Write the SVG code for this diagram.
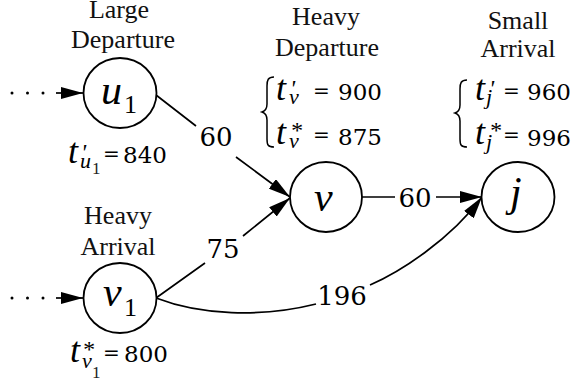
<svg xmlns="http://www.w3.org/2000/svg" width="576" height="385" viewBox="0 0 576 385">
<defs>
<marker id="ah" markerUnits="userSpaceOnUse" viewBox="0 0 22 12" refX="22" refY="6" markerWidth="22" markerHeight="12" orient="auto">
<path d="M0,0 L22,6 L0,12 Z" fill="#000"/>
</marker>
</defs>
<style>
.node{fill:#fff;stroke:#000;stroke-width:1.8}
.edge{fill:none;stroke:#000;stroke-width:1.7}
.hd{font-family:"Liberation Serif", serif;font-size:26px;text-anchor:middle;fill:#111}
.nl{font-family:"Liberation Serif", serif;font-style:italic;font-size:42px;fill:#000}
.ns{font-family:"Liberation Serif", serif;font-size:26px;fill:#000}
.t{font-family:"Liberation Serif", serif;font-style:italic;font-size:36px;fill:#000}
.sub{font-family:"Liberation Serif", serif;font-style:italic;font-size:22px;fill:#000}
.sup{font-family:"Liberation Serif", serif;font-style:italic;font-size:24px;fill:#000}
.ss{font-family:"Liberation Serif", serif;font-size:17px;fill:#222}
.num{font-family:"DejaVu Serif", serif;font-size:23px;fill:#000}
.eq{font-family:"DejaVu Serif", serif;font-size:20px;fill:#000}
.el{font-family:"DejaVu Serif", serif;font-size:26px;fill:#000;text-anchor:middle}
.br{fill:none;stroke:#000;stroke-width:1.5}
</style>
<g id="connectors">
<g fill="#000"><circle cx="12" cy="93" r="1.5"/><circle cx="27.5" cy="93" r="1.5"/><circle cx="43" cy="93" r="1.5"/>
<circle cx="12" cy="298" r="1.5"/><circle cx="27.5" cy="298" r="1.5"/><circle cx="43" cy="298" r="1.5"/></g>
<path class="edge" d="M56,93 L83,93" marker-end="url(#ah)"/>
<path class="edge" d="M56,298 L83,298" marker-end="url(#ah)"/>
<path class="edge" d="M156,95 L196,126 M236,157 L290,197" marker-end="url(#ah)"/>
<path class="edge" d="M156,298 L205,263 M243,236 L290,198" marker-end="url(#ah)"/>
<path class="edge" d="M362,197 L395,197 M436,197 L482,197" marker-end="url(#ah)"/>
<path class="edge" d="M156,298 C200,315 260,318 316,304 M370,285 C400,272 450,240 482,197" marker-end="url(#ah)"/>
<text class="el" x="216" y="146">60</text>
<text class="el" x="223" y="258">75</text>
<text class="el" x="415" y="207">60</text>
<text class="el" x="342" y="305">196</text>
</g>
<g id="u1">
<ellipse class="node" cx="120" cy="93" rx="36.5" ry="35"/>
<text class="nl" x="101" y="104">u</text><text class="ns" x="124" y="113">1</text>
<text class="hd" x="119" y="18">Large</text>
<text class="hd" x="123" y="48">Departure</text>
<text class="t" x="68" y="163">t</text><text class="sup" x="81" y="160">'</text>
<text class="sub" x="80" y="168">u</text><text class="ss" x="92" y="174">1</text>
<text class="eq" x="103" y="161">=</text><text class="num" x="123" y="163">840</text>
</g>
<g id="v1">
<ellipse class="node" cx="120" cy="298" rx="36.5" ry="35"/>
<text class="nl" x="103" y="306">v</text><text class="ns" x="124" y="316">1</text>
<text class="hd" x="118" y="224">Heavy</text>
<text class="hd" x="118" y="255">Arrival</text>
<text class="t" x="70" y="362">t</text><text class="sup" x="82" y="357">*</text>
<text class="sub" x="82" y="368">v</text><text class="ss" x="92" y="378">1</text>
<text class="eq" x="103" y="360">=</text><text class="num" x="124" y="362">800</text>
</g>
<g id="v">
<ellipse class="node" cx="326" cy="197" rx="36" ry="35"/>
<text class="nl" x="314" y="211">v</text>
<text class="hd" x="326" y="25">Heavy</text>
<text class="hd" x="327" y="56">Departure</text>
<path class="br" d="M274,77 C268,77 267,80 267,86 L267,104 C267,109 265,111 262,112 C265,113 267,115 267,120 L267,139 C267,145 268,147 274,147"/>
<text class="t" x="276" y="100">t</text><text class="sup" x="290" y="96">'</text>
<text class="sub" x="289" y="104">v</text>
<text class="t" x="276" y="144">t</text><text class="sup" x="290" y="138">*</text>
<text class="sub" x="289" y="148">v</text>
<text class="eq" x="313" y="98">=</text><text class="num" x="338" y="100">900</text>
<text class="eq" x="313" y="142">=</text><text class="num" x="338" y="145">875</text>
</g>
<g id="j">
<ellipse class="node" cx="518" cy="197" rx="36.5" ry="35"/>
<text class="nl" x="510" y="206">j</text>
<text class="hd" x="518" y="29">Small</text>
<text class="hd" x="518" y="57">Arrival</text>
<path class="br" d="M467,80 C461,80 460,83 460,89 L460,105 C460,110 458,112 455,113 C458,114 460,116 460,121 L460,139 C460,145 461,147 467,147"/>
<text class="t" x="475" y="100">t</text><text class="sup" x="489" y="96">'</text>
<text class="sub" x="486" y="104">j</text>
<text class="t" x="475" y="144">t</text><text class="sup" x="489" y="138">*</text>
<text class="sub" x="486" y="149">j</text>
<text class="eq" x="503" y="98">=</text><text class="num" x="527" y="100">960</text>
<text class="eq" x="503" y="142">=</text><text class="num" x="527" y="146">996</text>
</g>
</svg>
